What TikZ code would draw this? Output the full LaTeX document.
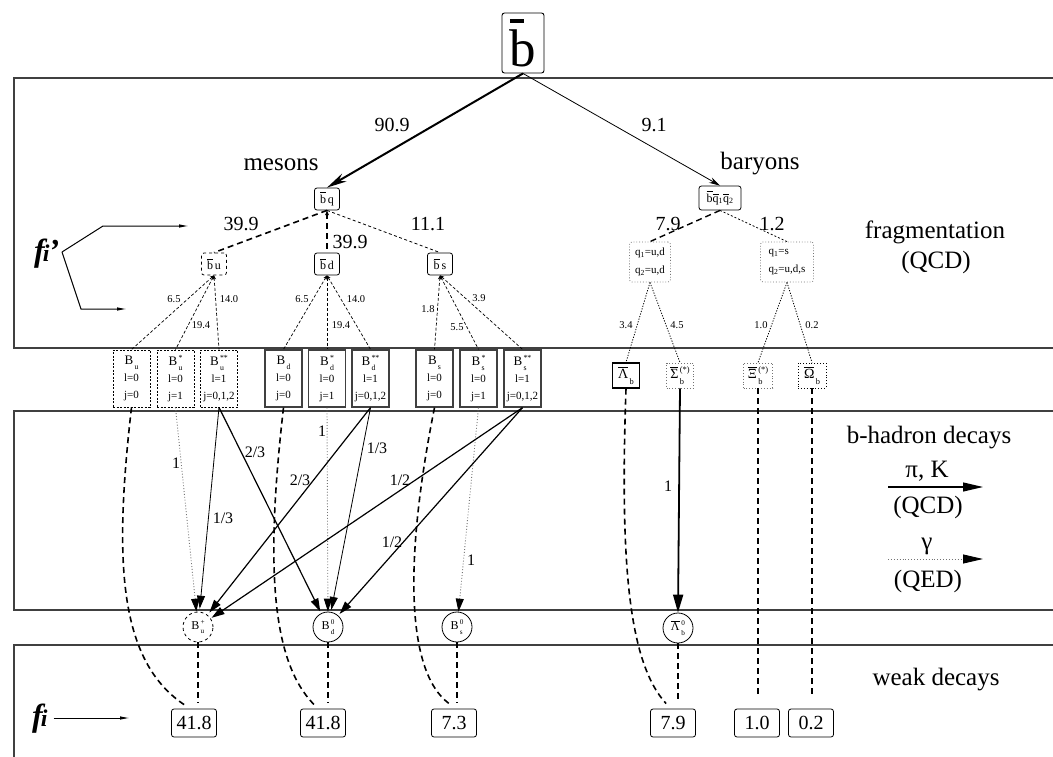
\documentclass[tikz,border=0pt]{standalone}
\usepackage{fontspec}
\setmainfont{Liberation Serif}
\usetikzlibrary{arrows.meta}
\newcommand\ovl[1]{{\setbox0\hbox{#1}\rlap{\raisebox{\dimexpr\ht0+0.12em\relax}{\rule{\wd0}{0.07em}}}\box0}}
\newcommand\bbar[1]{{\setbox0\hbox{#1}\rlap{\raisebox{\dimexpr\ht0+0.13em\relax}{\rule{0.52\wd0}{0.07em}}}\box0}}
\makeatletter
\newcommand\supsub[2]{{\dimen@=\f@size pt \dimen@=0.6\dimen@ \edef\ssz{\strip@pt\dimen@}%
\setbox0\hbox{\raisebox{0.42em}{\fontsize{\ssz}{\ssz}\selectfont#1}}%
\setbox2\hbox{\raisebox{-0.38em}{\fontsize{\ssz}{\ssz}\selectfont#2}}%
\kern0.1em\ifdim\wd0>\wd2 \rlap{\box2}\box0 \else\rlap{\box0}\box2\fi}}
\makeatother
\tikzset{
 band/.style={line width=1.1pt, draw=black!75},
 rbox/.style={draw, rounded corners=2.5pt, line width=0.8pt, inner sep=0pt},
 qbox/.style={rbox, minimum width=25pt, minimum height=22pt, font=\fontsize{12}{12}\selectfont},
 Bbox/.style={draw, inner sep=0pt, minimum width=37pt, minimum height=57pt, align=center, font=\fontsize{11}{17}\selectfont},
 Bsolid/.style={Bbox, draw=black!75, line width=1.3pt},
 Bdash/.style={Bbox, line width=0.8pt, dash pattern=on 2pt off 1.5pt},
 hbox/.style={draw, inner sep=0pt, minimum height=25pt, font=\fontsize{14}{14}\selectfont},
 circ/.style={circle, draw, inner sep=0pt, minimum size=30pt, line width=0.8pt, font=\fontsize{12}{12}\selectfont},
 fbox/.style={rbox, minimum width=45pt, minimum height=28pt, font=\fontsize{20}{20}\selectfont},
 num/.style={inner sep=0pt, anchor=base, font=\fontsize{20}{20}\selectfont},
 sml/.style={inner sep=0pt, anchor=base, font=\fontsize{10.5}{10.5}\selectfont},
 med/.style={inner sep=0pt, anchor=base, font=\fontsize{16}{16}\selectfont},
 bigt/.style={inner sep=0pt, anchor=base, font=\fontsize{25}{25}\selectfont},
 thickdash/.style={line width=1.6pt, dash pattern=on 6pt off 4pt},
 thindash/.style={line width=0.8pt, dash pattern=on 3pt off 2.5pt},
 fan/.style={line width=0.7pt, dash pattern=on 3pt off 2pt, {Stealth[length=4pt,width=3.5pt]}-},
 bfan/.style={line width=0.8pt, dash pattern=on 1.2pt off 1.5pt},
 tri/.style={-{Triangle[length=13pt,width=8pt,color=black]}},
 gdot/.style={tri, draw=black!55, line width=0.9pt, dotted},
}
\begin{document}
\begin{tikzpicture}[x=1pt,y=-1pt]
\useasboundingbox (0,0) rectangle (1053,757);
% bands
\draw[band] (1053,78) -- (14,78) -- (14,348) -- (1053,348);
\draw[band] (1053,411) -- (14,411) -- (14,610) -- (1053,610);
\draw[band] (1053,645) -- (14,645) -- (14,757);

% top node
\node[rbox, minimum width=42pt, minimum height=60pt, line width=0.9pt, font=\fontsize{53}{53}\selectfont] (b) at (523,43) {\bbar{b}};
\node[qbox] (bq) at (327,199) {\ovl{b}\,q};
\node[qbox, minimum width=42pt, minimum height=24pt] (bqq) at (720,198) {\ovl{b}\ovl{q}\textsubscript{1}\ovl{q}\textsubscript{2}};
\draw[line width=2pt, -{Stealth[length=20pt,width=9pt]}] (b.south) -- (bq.north);
\draw[line width=0.8pt, -{Stealth[length=11pt,width=6pt]}] (b.south) -- (bqq.north);
\node[num] (n909) at (392,132) {90.9};
\node[num] (n91) at (654,132) {9.1};
\node[bigt] (mes) at (281,171) {mesons};
\node[bigt] (bar) at (760,170) {baryons};

% meson level 2
\node[qbox, dashed] (bu) at (214,264) {\ovl{b}\,u};
\node[qbox] (bd) at (327,264) {\ovl{b}\,d};
\node[qbox] (bs) at (440,264) {\ovl{b}\,s};
\draw[thickdash] (bq.south) -- (bu.north);
\draw[thickdash, {Stealth[length=5pt,width=4pt]}-] (bq.south) -- (bd.north);
\draw[thindash] (bq.south) -- (bs.north);
\node[num] (l399a) at (241,230) {39.9};
\node[num] (l399b) at (350,248) {39.9};
\node[num] (l111) at (428,230) {11.1};

% baryon level 2
\node[rbox, draw=black!55, dotted, minimum width=41pt, minimum height=40pt, align=left, font=\fontsize{11}{18}\selectfont] (qud) at (650,262) {q\textsubscript{1}=u,d\\q\textsubscript{2}=u,d};
\node[rbox, draw=black!55, dotted, minimum width=53pt, minimum height=40pt, align=left, font=\fontsize{11}{18}\selectfont] (qs) at (787,262) {q\textsubscript{1}=s\\q\textsubscript{2}=u,d,s};
\draw[thickdash, line width=1.4pt] (bqq.south) -- (qud.north);
\draw[thindash, dash pattern=on 2pt off 2pt] (bqq.south) -- (qs.north);
\node[num] (l79) at (668,230) {7.9};
\node[num] (l12) at (772,230) {1.2};
\node[bigt] (frag) at (935,239) {fragmentation};
\node[bigt] (qcd1) at (936,268) {(QCD)};

% f_i'
\node[inner sep=0pt, anchor=base west, font=\fontsize{32}{32}\selectfont\bfseries\itshape] (fip) at (34,261) {f\kern-2pt{\fontsize{24}{24}\selectfont i}\kern-1pt’};
\coordinate (fa) at (62,252);
\coordinate (fb) at (103,226);
\coordinate (fc) at (189,226);
\coordinate (fd) at (81,309);
\coordinate (fe) at (127,309);
\draw[line width=1pt, -{Latex[length=10pt,width=3.5pt]}] (fa) -- (fb) -- (fc);
\draw[line width=1pt, -{Latex[length=10pt,width=3.5pt]}] (fa) -- (fd) -- (fe);

% B boxes
\node[Bdash] (Bu) at (131.5,378.5) {{\fontsize{13}{13}\selectfont B\supsub{}{u}}\\l=0\\j=0};
\node[Bdash] (Bus) at (175.5,378.5) {{\fontsize{13}{13}\selectfont B\supsub{*}{u}}\\l=0\\j=1};
\node[Bdash] (Buss) at (219,378.5) {{\fontsize{13}{13}\selectfont B\supsub{**}{u}}\\l=1\\j=0,1,2};
\node[Bsolid] (Bd) at (283.5,378.5) {{\fontsize{13}{13}\selectfont B\supsub{}{d}}\\l=0\\j=0};
\node[Bsolid] (Bds) at (327,378.5) {{\fontsize{13}{13}\selectfont B\supsub{*}{d}}\\l=0\\j=1};
\node[Bsolid] (Bdss) at (370.5,378.5) {{\fontsize{13}{13}\selectfont B\supsub{**}{d}}\\l=1\\j=0,1,2};
\node[Bsolid] (Bs) at (434.5,378.5) {{\fontsize{13}{13}\selectfont B\supsub{}{s}}\\l=0\\j=0};
\node[Bsolid] (Bss) at (478.5,378.5) {{\fontsize{13}{13}\selectfont B\supsub{*}{s}}\\l=0\\j=1};
\node[Bsolid] (Bsss) at (522.5,378.5) {{\fontsize{13}{13}\selectfont B\supsub{**}{s}}\\l=1\\j=0,1,2};

\draw[fan] (bu.south) -- (Bu.north);
\draw[fan] (bu.south) -- (Bus.north);
\draw[fan] (bu.south) -- (Buss.north);
\draw[fan] (bd.south) -- (Bd.north);
\draw[fan] (bd.south) -- (Bds.north);
\draw[fan] (bd.south) -- (Bdss.north);
\draw[fan] (bs.south) -- (Bs.north);
\draw[fan] (bs.south) -- (Bss.north);
\draw[fan] (bs.south) -- (Bsss.north);
\node[sml] (a1) at (174,302) {6.5};
\node[sml] (a2) at (201,328) {19.4};
\node[sml] (a3) at (229,302) {14.0};
\node[sml] (a4) at (302,302) {6.5};
\node[sml] (a5) at (341,328) {19.4};
\node[sml] (a6) at (356,302) {14.0};
\node[sml] (a7) at (428,312) {1.8};
\node[sml] (a8) at (457,330) {5.5};
\node[sml] (a9) at (479,301) {3.9};

% baryon boxes
\node[hbox, line width=1.3pt, minimum width=27pt] (Lb) at (626,375.5) {\ovl{Λ}\supsub{}{b}};
\node[hbox, draw=black!55, dotted, line width=0.9pt, minimum width=27pt] (Sb) at (680,375.5) {\ovl{Σ}\supsub{(*)}{b}};
\node[hbox, draw=black!55, dotted, line width=0.9pt, minimum width=29pt] (Xb) at (758,375.5) {\ovl{Ξ}\supsub{(*)}{b}};
\node[hbox, dotted, line width=0.9pt, minimum width=28pt] (Ob) at (812,375.5) {\ovl{Ω}\supsub{}{b}};
\draw[bfan] (qud.south) -- (Lb.north);
\draw[bfan] (qud.south) -- (Sb.north);
\draw[bfan] (qs.south) -- (Xb.north);
\draw[bfan] (qs.south) -- (Ob.north);
\node[sml] (c1) at (626,328) {3.4};
\node[sml] (c2) at (677,328) {4.5};
\node[sml] (c3) at (761,328) {1.0};
\node[sml] (c4) at (812,328) {0.2};

% circles
\node[circ, dashed] (Bup) at (198,627) {B\supsub{+}{u}};
\node[circ] (Bd0) at (328,627) {B\supsub{0}{d}};
\node[circ] (Bs0) at (457,627) {B\supsub{0}{s}};
\node[circ] (L0) at (678,628) {\ovl{Λ}\kern0.05em\supsub{0}{b}};

% final boxes
\node[fbox] (f1) at (194,723) {41.8};
\node[fbox] (f2) at (323,723) {41.8};
\node[fbox] (f3) at (454,723) {7.3};
\node[fbox] (f4) at (673,723) {7.9};
\node[fbox] (f5) at (757,723) {1.0};
\node[fbox] (f6) at (811,723) {0.2};

% decays in band 2
\draw[gdot] (Bus.south) -- (Bup);
\draw[gdot] (Bds.south) -- (Bd0);
\draw[gdot] (Bss.south) -- (Bs0);
\draw[line width=0.8pt, tri, shorten >=3pt] (Buss.south) -- (Bup);
\draw[line width=1.2pt, tri, shorten >=2pt] (Buss.south) -- (Bd0);
\draw[line width=1.2pt, tri, shorten >=3pt] (Bdss.south) -- (Bup);
\draw[line width=0.8pt, tri, shorten >=2pt] (Bdss.south) -- (Bd0);
\draw[line width=1.2pt, tri, shorten >=1pt] (Bsss.south) -- (Bup);
\draw[line width=1.2pt, tri, shorten >=2pt] (Bsss.south) -- (Bd0);
\draw[line width=1.8pt, -{Triangle[length=18pt,width=10pt]}] (Sb.south) -- (L0.north);

\node[med] (d1) at (176,468) {1};
\node[med] (d2) at (223,523) {1/3};
\node[med] (d3) at (255,457) {2/3};
\node[med] (d4) at (322,436) {1};
\node[med] (d5) at (300,485) {2/3};
\node[med] (d6) at (377,453) {1/3};
\node[med] (d7) at (400,485) {1/2};
\node[med] (d8) at (392,547) {1/2};
\node[med] (d9) at (471,565) {1};
\node[med] (d10) at (668,491) {1};

% dashed curves to weak decays
\draw[thickdash] (Bu.south) .. controls (114,560) and (118,660) .. ([xshift=13pt,yshift=4pt]f1.north west);
\draw[thickdash] (Bd.south) .. controls (266,560) and (270,660) .. ([xshift=14pt,yshift=4pt]f2.north west);
\draw[thickdash] (Bs.south) .. controls (404,560) and (406,672) .. ([xshift=18pt,yshift=5pt]f3.north west);
\draw[thickdash] (Lb.south) .. controls (620,560) and (628,662) .. ([xshift=16pt,yshift=5pt]f4.north west);
\draw[thickdash] (Xb.south) -- ([yshift=11pt]Xb.south |- f5.north);
\draw[thickdash] (Ob.south) -- ([yshift=11pt]Ob.south |- f6.north);
\draw[thickdash] (Bup.south) -- ([yshift=6pt]Bup.south |- f1.north);
\draw[thickdash] (Bd0.south) -- ([yshift=6pt]Bd0.south |- f2.north);
\draw[thickdash] (Bs0.south) -- ([yshift=6pt]Bs0.south |- f3.north);
\draw[thickdash] (L0.south) -- ([yshift=6pt]L0.south |- f4.north);

% legend
\node[bigt] (hd) at (929,443) {b-hadron decays};
\node[bigt] (piK) at (927,477) {π, K};
\coordinate (la) at (888,487);
\coordinate (lb) at (983,487);
\draw[line width=1.1pt, -{Triangle[length=20pt,width=9pt]}] (la) -- (lb);
\node[bigt] (qcd2) at (928,513) {(QCD)};
\node[bigt] (gam) at (927,549) {γ};
\coordinate (lc) at (888,559);
\coordinate (ld) at (983,559);
\draw[draw=black!55, line width=0.9pt, dotted, -{Triangle[length=20pt,width=9pt,color=black]}] (lc) -- (ld);
\node[bigt] (qed) at (928,587) {(QED)};
\node[bigt] (wd) at (936,685) {weak decays};

% f_i
\node[inner sep=0pt, anchor=base west, font=\fontsize{32}{32}\selectfont\bfseries\itshape] (fi) at (32,726) {f\kern-2pt{\fontsize{24}{24}\selectfont i}};
\coordinate (fg) at (130,718);
\draw[line width=1pt, -{Latex[length=10pt,width=3.5pt]}] ([xshift=6pt]fi.east |- fg) -- (fg);
\end{tikzpicture}
\end{document}
